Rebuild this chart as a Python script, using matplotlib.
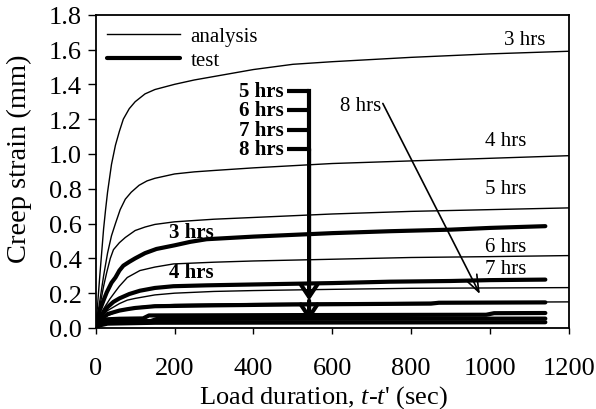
import matplotlib
matplotlib.use("Agg")
import matplotlib.pyplot as plt
from matplotlib.ticker import FormatStrFormatter

plt.rcParams['font.family'] = ['Liberation Serif', 'DejaVu Serif']
plt.rcParams['mathtext.fontset'] = 'custom'
plt.rcParams['mathtext.it'] = 'Liberation Serif:italic'
plt.rcParams['mathtext.rm'] = 'Liberation Serif'

# ---- analysis curves (thin) ----
a3_x = [0, 5, 10, 15, 20, 25, 30, 40, 50, 60, 70, 85, 100, 125, 150, 200, 250, 300, 400, 500, 600, 800, 1000, 1200]
a3_y = [0, 0.14, 0.29, 0.43, 0.57, 0.68, 0.78, 0.94, 1.05, 1.13, 1.20, 1.26, 1.30, 1.345, 1.37, 1.40, 1.425, 1.445, 1.485, 1.515, 1.53, 1.555, 1.575, 1.59]
a4_x = [0, 10, 20, 30, 40, 50, 62, 75, 90, 110, 130, 150, 200, 250, 300, 400, 600, 800, 1000, 1200]
a4_y = [0, 0.15, 0.30, 0.43, 0.53, 0.60, 0.68, 0.74, 0.78, 0.82, 0.845, 0.86, 0.885, 0.897, 0.905, 0.92, 0.945, 0.96, 0.975, 0.99]
a5_x = [0, 10, 20, 28, 37, 45, 60, 75, 100, 125, 150, 200, 300, 400, 600, 800, 1000, 1200]
a5_y = [0, 0.12, 0.24, 0.32, 0.40, 0.45, 0.49, 0.52, 0.56, 0.58, 0.595, 0.61, 0.625, 0.635, 0.655, 0.67, 0.68, 0.69]
a6_x = [0, 10, 20, 36, 50, 60, 80, 112, 150, 197, 300, 400, 600, 800, 1000, 1200]
a6_y = [0, 0.07, 0.11, 0.167, 0.21, 0.24, 0.29, 0.33, 0.35, 0.368, 0.378, 0.385, 0.395, 0.405, 0.41, 0.416]
a7_x = [0, 10, 20, 30, 45, 60, 80, 100, 150, 200, 300, 400, 600, 800, 1000, 1200]
a7_y = [0, 0.05, 0.08, 0.10, 0.12, 0.14, 0.16, 0.17, 0.19, 0.20, 0.21, 0.215, 0.222, 0.228, 0.23, 0.232]
a8_x = [0, 10, 20, 30, 45, 60, 80, 100, 150, 200, 400, 600, 800, 1000, 1200]
a8_y = [0, 0.04, 0.06, 0.07, 0.085, 0.10, 0.11, 0.12, 0.13, 0.135, 0.14, 0.143, 0.146, 0.148, 0.15]

# ---- test curves (thick) ----
t3_x = [0, 10, 20, 28, 40, 50, 60, 70, 85, 100, 125, 154, 200, 240, 281, 400, 600, 746, 900, 1000, 1140]
t3_y = [0, 0.10, 0.16, 0.205, 0.26, 0.29, 0.33, 0.358, 0.38, 0.40, 0.43, 0.454, 0.475, 0.495, 0.51, 0.525, 0.545, 0.556, 0.565, 0.575, 0.585]
t4_x = [0, 10, 20, 30, 45, 60, 85, 112, 150, 197, 281, 400, 600, 746, 900, 1000, 1140]
t4_y = [0, 0.06, 0.09, 0.12, 0.15, 0.17, 0.195, 0.214, 0.23, 0.24, 0.245, 0.25, 0.258, 0.266, 0.27, 0.275, 0.278]
t5_x = [0, 10, 20, 30, 45, 60, 80, 100, 150, 300, 500, 700, 850, 870, 1140]
t5_y = [0, 0.04, 0.06, 0.08, 0.09, 0.10, 0.108, 0.115, 0.125, 0.13, 0.135, 0.138, 0.14, 0.145, 0.147]
t6_x = [0, 10, 20, 30, 60, 120, 135, 500, 990, 1010, 1140]
t6_y = [0, 0.03, 0.042, 0.05, 0.053, 0.055, 0.072, 0.074, 0.076, 0.085, 0.086]
t7_x = [0, 10, 20, 30, 140, 155, 1140]
t7_y = [0, 0.02, 0.03, 0.035, 0.04, 0.052, 0.054]
t8_x = [0, 10, 30, 150, 1140]
t8_y = [0, 0.015, 0.025, 0.03, 0.033]

analysis = [(a3_x, a3_y), (a4_x, a4_y), (a5_x, a5_y), (a6_x, a6_y), (a7_x, a7_y), (a8_x, a8_y)]
tests = [(t3_x, t3_y), (t4_x, t4_y), (t5_x, t5_y), (t6_x, t6_y), (t7_x, t7_y), (t8_x, t8_y)]

x_ticks = [0, 200, 400, 600, 800, 1000, 1200]
y_ticks = [0.0, 0.2, 0.4, 0.6, 0.8, 1.0, 1.2, 1.4, 1.6, 1.8]

# annotation labels
ana_labels = ["3 hrs", "4 hrs", "5 hrs", "6 hrs", "7 hrs"]
ana_label_pos = [(1088, 1.655), (1040, 1.076), (1040, 0.803), (1040, 0.47), (1040, 0.339)]
test_labels = ["3 hrs", "4 hrs"]
test_label_pos = [(243, 0.55), (243, 0.32)]
bracket_labels = ["5 hrs", "6 hrs", "7 hrs", "8 hrs"]
bracket_y = [1.364, 1.253, 1.138, 1.029]

fig = plt.figure(figsize=(5.96, 4.10), dpi=100)
ax = fig.add_axes([0.1606, 0.1976, 0.7941, 0.7641])

la = None
for xs, ys in analysis:
    la, = ax.plot(xs, ys, color='black', lw=1.0, solid_joinstyle='round')
lt = None
for xs, ys in tests:
    lt, = ax.plot(xs, ys, color='black', lw=3.0, solid_capstyle='round')

ax.set_xlim(0, 1200)
ax.set_ylim(0, 1.8)
ax.set_xticks(x_ticks)
ax.set_yticks(y_ticks)
ax.yaxis.set_major_formatter(FormatStrFormatter('%.1f'))
ax.tick_params(axis='both', direction='out', labelsize=19, width=1.0, colors='black')
ax.tick_params(axis='x', length=4, pad=17)
ax.tick_params(axis='y', length=6, pad=4)
for s in ax.spines.values():
    s.set_linewidth(1.3)

ax.set_ylabel('Creep strain (mm)', fontsize=20.5)
ax.yaxis.set_label_coords(-0.135, 0.543)
ax.set_xlabel(r"Load duration, $t$-$t$' (sec)", fontsize=19)
ax.xaxis.set_label_coords(0.482, -0.175)

ax.legend([la, lt], ['analysis', 'test'], loc='upper left', bbox_to_anchor=(0.015, 0.975),
          frameon=False, fontsize=15, handlelength=3.5, handletextpad=0.5,
          labelspacing=0.2, borderaxespad=0.0, borderpad=0.2)

for lab, (px, py) in zip(ana_labels, ana_label_pos):
    ax.text(px, py, lab, fontsize=15, ha='center', va='center')
for lab, (px, py) in zip(test_labels, test_label_pos):
    ax.text(px, py, lab, fontsize=15, ha='center', va='center', fontweight='bold')

# bracket with bold labels
bx0, bx1 = 484, 541
for lab, yy in zip(bracket_labels, bracket_y):
    ax.text(bx0 - 8, yy, lab, fontsize=15, ha='right', va='center', fontweight='bold')
    ax.plot([bx0, bx1], [yy, yy], color='black', lw=3.0, solid_capstyle='butt')
ax.plot([bx1, bx1], [bracket_y[0], bracket_y[-1]], color='black', lw=3.0, solid_capstyle='projecting')
ax.annotate('', xy=(bx1, 0.157), xytext=(bx1, bracket_y[-1]),
            arrowprops=dict(arrowstyle='->,head_length=0.6,head_width=0.4', lw=3.0,
                            color='black', mutation_scale=15, shrinkA=0, shrinkB=0))
ax.annotate('', xy=(bx1, 0.042), xytext=(bx1, 0.157),
            arrowprops=dict(arrowstyle='->,head_length=0.6,head_width=0.4', lw=3.0,
                            color='black', mutation_scale=15, shrinkA=0, shrinkB=0))

# 8 hrs thin arrow
ax.text(723, 1.278, '8 hrs', fontsize=15, ha='right', va='center')
ax.annotate('', xy=(974, 0.195), xytext=(728, 1.29),
            arrowprops=dict(arrowstyle='->,head_length=0.8,head_width=0.3', lw=1.2,
                            color='black', mutation_scale=15, shrinkA=0, shrinkB=0))

fig.savefig('out.png', dpi=100)
